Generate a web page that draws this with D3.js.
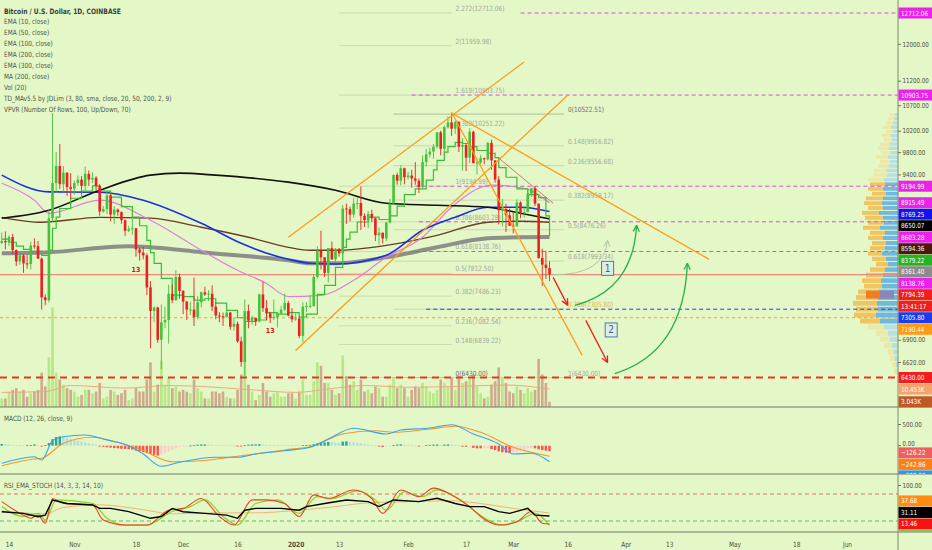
<!DOCTYPE html>
<html>
<head>
<meta charset="utf-8">
<script src="https://cdn.jsdelivr.net/npm/d3@7"></script>
<style>
  body { margin: 0; background: #e4f7c7; }
  svg { display: block; }
  text { font-family: "Liberation Sans Narrow", "DejaVu Sans Condensed", "Liberation Sans", sans-serif; }
</style>
</head>
<body>
<svg id="chart" width="932" height="550"></svg>
<script>
// ---- daily BTC/USD candles, 2019-10-12 .. 2020-03-11 ----
const firstDay = "2019-10-12";
const opens = [
  8270, 8300, 8280, 8360, 8160, 7990, 8080, 7960, 7950, 8230, 8220, 8030, 7470, 7430, 8660, 9250, 9550, 9230, 9430, 9180,
  9150, 9250, 9310, 9200, 9410, 9310, 9340, 9200, 8770, 8810, 9040, 8720, 8800, 8760, 8630, 8460, 8490, 8500, 8170, 8120, 8080, 7610, 7280, 7330, 6900, 7130, 7160, 7520, 7430, 7760,
  7560, 7410, 7300, 7300, 7200, 7400, 7540, 7510, 7520, 7340, 7220, 7210, 7200, 7260, 7070, 7110, 6880, 6620, 7280, 7150, 7190, 7140, 7510, 7320, 7250, 7190, 7200, 7250, 7300, 7390, 7220,
  7170, 7180, 6950, 7340, 7350, 7350, 7760, 8150, 8050, 7820, 8190, 8020, 8180, 8110, 8820, 8810, 8720, 8900, 8910, 8700, 8630, 8730, 8660, 8390, 8430, 8340, 8590, 8900, 9390, 9290, 9510,
  9350, 9380, 9330, 9290, 9180, 9620, 9760, 9810, 9900, 10170, 9860, 10270, 10360, 10240, 10370, 9900, 9930, 9700, 10180, 9600, 9610, 9690, 9670, 9970, 9650, 9310, 8790, 8810, 8710,
  8540, 8530, 8920, 8760, 8760, 9070, 9160, 8900, 8040, 7940, 7890
];
const highs = [
  8430, 8450, 8390, 8410, 8170, 8110, 8100, 8090, 8290, 8340, 8300, 8050, 7510, 8800, 10540, 9800, 9950, 9550, 9440, 9420,
  9290, 9380, 9370, 9540, 9470, 9440, 9370, 9230, 8860, 9100, 9070, 8860, 8820, 8770, 8640, 8540, 8650, 8500, 8200, 8210, 8110, 7700, 7340, 7340, 7370, 7340, 7650, 7650, 7860, 7810,
  7570, 7420, 7410, 7750, 7490, 7550, 7620, 7570, 7640, 7400, 7270, 7260, 7310, 7270, 7190, 7140, 6940, 7440, 7370, 7220, 7190, 7520, 7690, 7430, 7270, 7440, 7270, 7350, 7520, 7420, 7320,
  7250, 7210, 7400, 7400, 7500, 7800, 8220, 8460, 8050, 8190, 8290, 8190, 8190, 8880, 8900, 8850, 9000, 9010, 9190, 8740, 8780, 8800, 8670, 8510, 8430, 8600, 8980, 9400, 9430, 9560, 9520,
  9440, 9480, 9620, 9330, 9740, 9860, 9880, 9950, 10170, 10200, 10300, 10480, 10522, 10390, 10380, 10060, 9960, 10250, 10200, 9650, 9750, 9700, 9990, 10030, 9650, 9370, 8980, 8900, 8820,
  8750, 8970, 8940, 8840, 9150, 9170, 9190, 8900, 8180, 8150, 7990
];
const lows = [
  8250, 8170, 8220, 8100, 7920, 7940, 7820, 7880, 7870, 8180, 8030, 7300, 7360, 7400, 8600, 9080, 9150, 9100, 9030, 8980,
  9050, 9200, 9080, 9120, 9200, 9250, 9120, 8700, 8750, 8730, 8610, 8570, 8700, 8570, 8380, 8440, 8400, 8060, 8000, 8020, 7500, 6790, 7130, 6860, 6530, 7050, 6850, 7390, 7420, 7450,
  7240, 7160, 7230, 7080, 7170, 7330, 7490, 7420, 7280, 7170, 7130, 7080, 7190, 7030, 7020, 6860, 6560, 6430, 7050, 7100, 7080, 7130, 7270, 7160, 7120, 7160, 7060, 7240, 7280, 7210, 7130,
  7150, 6920, 6870, 7270, 7320, 7340, 7740, 7870, 7760, 7680, 8010, 7970, 8060, 8100, 8570, 8610, 8670, 8810, 8470, 8520, 8500, 8600, 8300, 8240, 8260, 8300, 8580, 8880, 9220, 9210, 9230,
  9310, 9170, 9220, 9080, 9160, 9540, 9700, 9680, 9870, 9740, 9740, 10250, 10100, 10140, 9800, 9470, 9460, 9600, 9600, 9400, 9570, 9580, 9650, 9480, 9260, 8560, 8530, 8440, 8540,
  8420, 8530, 8660, 8670, 8760, 9010, 8860, 8030, 7630, 7730, 7700
];
const closes = [
  8300, 8280, 8360, 8160, 7990, 8080, 7960, 7950, 8230, 8220, 8030, 7470, 7430, 8660, 9250, 9550, 9230, 9430, 9180, 9150,
  9250, 9310, 9200, 9410, 9310, 9340, 9200, 8770, 8810, 9040, 8720, 8800, 8760, 8630, 8460, 8490, 8500, 8170, 8120, 8080, 7610, 7280, 7330, 6900, 7130, 7160, 7520, 7430, 7760, 7560,
  7410, 7300, 7300, 7200, 7400, 7540, 7510, 7520, 7340, 7220, 7210, 7200, 7260, 7070, 7110, 6880, 6620, 7280, 7150, 7190, 7140, 7510, 7320, 7250, 7190, 7200, 7250, 7300, 7390, 7220, 7170,
  7180, 6950, 7340, 7350, 7350, 7760, 8150, 8050, 7820, 8190, 8020, 8180, 8110, 8820, 8810, 8720, 8900, 8910, 8700, 8630, 8730, 8660, 8390, 8430, 8340, 8590, 8900, 9390, 9290, 9510, 9350,
  9380, 9330, 9290, 9180, 9620, 9760, 9810, 9900, 10170, 9860, 10270, 10360, 10240, 10370, 9900, 9930, 9700, 10180, 9600, 9610, 9690, 9670, 9970, 9650, 9310, 8790, 8810, 8710, 8540,
  8530, 8920, 8760, 8760, 9070, 9160, 8900, 8040, 7940, 7890, 7794.39
];
// volume in thousands of BTC
const volumes = [
  5, 5, 9, 10, 11, 9, 10, 6, 8, 9, 10, 20, 12, 29, 58, 20, 16, 13, 11, 10,
  9, 6, 7, 10, 10, 8, 9, 14, 5, 6, 10, 9, 7, 8, 10, 4, 5, 11, 9, 9, 16, 26, 9, 13, 27, 13, 17, 11, 12, 9,
  10, 9, 8, 16, 11, 9, 5, 5, 9, 9, 8, 9, 6, 5, 5, 10, 19, 27, 13, 9, 4, 7, 14, 9, 6, 8, 9, 6, 6, 8, 8,
  5, 9, 16, 7, 7, 15, 26, 24, 14, 14, 10, 7, 8, 30, 18, 13, 15, 10, 16, 9, 10, 8, 12, 11, 6, 6, 13, 17, 11, 13, 11,
  6, 10, 12, 11, 14, 12, 9, 8, 10, 16, 14, 12, 17, 10, 18, 14, 15, 17, 19, 12, 8, 5, 6, 13, 15, 23, 17, 14, 9,
  8, 12, 10, 8, 11, 9, 10, 28, 19, 14, 3.043
];
const macdHist = [
  40, 35, 30, 20, 12, 10, 8, 10, 15, 30, 10, -5, 15, 60, 150, 200, 215, 200, 180, 160,
  140, 115, 95, 75, 55, 40, 25, -15, -25, -35, -45, -55, -60, -70, -75, -80, -90, -110, -130, -150, -170, -190, -210, -225, -200, -170, -130, -95, -60, -30,
  -15, -5, 5, 10, 25, 30, 30, 28, 22, 18, 14, 10, 8, 6, 4, -5, -15, 10, 25, 30, 30, 35, 30, 25, 20, 18, 16, 15, 14, 12, 10,
  8, 6, 10, 15, 20, 35, 55, 70, 75, 85, 80, 70, 65, 95, 100, 90, 80, 70, 55, 40, 30, 15, 5, -20, -30, -25, -10, 15, 25, 30, 25,
  20, 10, 2, -10, -5, 15, 20, 25, 28, 22, 25, 30, 28, 20, 10, -20, -25, -20, -50, -60, -60, -55, -50, -80, -100, -130, -150, -160, -165,
  -160, -140, -115, -90, -65, -55, -60, -80, -100, -115, -126.22
];

// ---- indicator lines, [date, value] ----
const ma200 = [["2019-10-12",8661],["2019-10-25",8791],["2019-11-08",9127],["2019-11-22",9387],["2019-11-30",9422],["2019-12-10",9387],["2019-12-30",9265],["2020-01-12",9127],["2020-01-26",8907],["2020-02-09",8874],["2020-02-23",8841],["2020-03-03",8741],["2020-03-11",8650.07]];
const ema100 = [["2019-10-12",9387],["2019-10-25",9098],["2019-11-08",9093],["2019-11-20",8958],["2019-12-06",8579],["2019-12-17",8264],["2019-12-30",8020],["2020-01-05",7961],["2020-01-12",7950],["2020-01-26",8081],["2020-02-05",8468],["2020-02-14",8676],["2020-02-23",8841],["2020-03-03",8841],["2020-03-11",8769.25]];
const ema50 = [["2019-10-12",9247],["2019-10-21",8958],["2019-10-25",8741],["2019-11-08",8958],["2019-11-22",8628],["2019-12-06",8157],["2019-12-16",7857],["2019-12-24",7667],["2019-12-30",7480],["2020-01-08",7498],["2020-01-17",7711],["2020-01-26",8050],["2020-02-05",8358],["2020-02-13",8841],["2020-02-24",9213],["2020-03-04",9160],["2020-03-11",8915.49]];
const ema200 = [["2019-10-12",8676],["2019-10-23",8596],["2019-11-08",8676],["2019-11-22",8661],["2019-12-06",8516],["2019-12-19",8358],["2019-12-30",8203],["2020-01-05",8157],["2020-01-12",8157],["2020-01-26",8233],["2020-02-09",8389],["2020-02-23",8596],["2020-03-03",8612],["2020-03-11",8594.36]];
const ema300 = [["2019-10-12",8111],["2019-10-25",8127],["2019-11-16",8218],["2019-11-22",8203],["2019-12-06",8127],["2019-12-30",8006],["2020-01-05",7961],["2020-01-12",7961],["2020-01-26",8050],["2020-02-09",8203],["2020-02-23",8342],["2020-03-03",8358],["2020-03-11",8361.40]];
const ema10 = [["2019-10-12",8330],["2019-10-14",8280],["2019-10-16",8220],["2019-10-18",8170],["2019-10-20",8140],["2019-10-23",8080],["2019-10-25",8160],["2019-10-26",8500],["2019-10-27",8680],["2019-10-28",8820],["2019-10-31",8990],["2019-11-03",9110],["2019-11-06",9200],["2019-11-08",9110],["2019-11-11",9010],["2019-11-14",8850],["2019-11-17",8680],["2019-11-19",8540],["2019-11-21",8310],["2019-11-22",8120],["2019-11-23",7960],["2019-11-25",7740],["2019-11-28",7500],["2019-12-01",7480],["2019-12-04",7430],["2019-12-07",7450],["2019-12-10",7390],["2019-12-13",7290],["2019-12-16",7190],["2019-12-18",7140],["2019-12-21",7160],["2019-12-24",7260],["2019-12-27",7240],["2019-12-30",7260],["2020-01-02",7200],["2020-01-04",7240],["2020-01-07",7510],["2020-01-09",7640],["2020-01-12",7900],["2020-01-14",8200],["2020-01-15",8330],["2020-01-16",8440],["2020-01-18",8600],["2020-01-21",8680],["2020-01-24",8640],["2020-01-27",8700],["2020-01-29",8860],["2020-01-31",9050],["2020-02-03",9150],["2020-02-06",9300],["2020-02-08",9480],["2020-02-09",9650],["2020-02-11",9800],["2020-02-12",9900],["2020-02-14",9980],["2020-02-16",9960],["2020-02-18",9900],["2020-02-20",9830],["2020-02-23",9780],["2020-02-25",9700],["2020-02-26",9520],["2020-02-28",9350],["2020-03-02",9150],["2020-03-05",9050],["2020-03-08",9000],["2020-03-10",8700],["2020-03-11",8379.22]];
const volMa = [["2019-10-12",8.5],["2019-10-24",9],["2019-10-31",12.5],["2019-11-15",11],["2019-11-27",12.5],["2019-12-06",12],["2019-12-20",10],["2020-01-01",8.5],["2020-01-10",10.5],["2020-01-20",12.5],["2020-02-01",11.5],["2020-02-15",12],["2020-02-28",12.8],["2020-03-11",10.453]];

const macdLine = [["2019-10-12",-406],["2019-10-21",-253],["2019-10-23",-330],["2019-10-26",115],["2019-10-29",207],["2019-11-04",247],["2019-11-10",131],["2019-11-16",0],["2019-11-20",-191],["2019-11-25",-475],["2019-11-30",-382],["2019-12-10",-267],["2019-12-16",-267],["2019-12-21",-191],["2019-12-29",-115],["2020-01-05",-37],["2020-01-10",154],["2020-01-17",401],["2020-01-26",270],["2020-01-30",362],["2020-02-07",408],["2020-02-13",484],["2020-02-19",270],["2020-02-26",39],["2020-03-01",-191],["2020-03-06",-175],["2020-03-11",-369.08]];
const signalLine = [["2019-10-12",-461],["2019-10-21",-306],["2019-10-23",-291],["2019-10-29",55],["2019-11-06",194],["2019-11-13",78],["2019-11-20",-115],["2019-11-28",-369],["2019-12-06",-346],["2019-12-16",-244],["2019-12-29",-99],["2020-01-06",0],["2020-01-14",270],["2020-01-23",346],["2020-01-28",309],["2020-02-07",385],["2020-02-14",447],["2020-02-21",309],["2020-03-01",-37],["2020-03-11",-242.86]];

const rsiLine = [["2019-10-12",40.7],["2019-10-18",37],["2019-10-22",29.6],["2019-10-24",33],["2019-10-26",66.7],["2019-10-30",59],["2019-11-06",55.6],["2019-11-08",48],["2019-11-11",48],["2019-11-16",40.7],["2019-11-22",26],["2019-11-25",30],["2019-11-28",48],["2019-12-01",40.7],["2019-12-07",37],["2019-12-13",33],["2019-12-16",26],["2019-12-18",44],["2019-12-21",48],["2019-12-28",48],["2020-01-02",44],["2020-01-04",52],["2020-01-09",59],["2020-01-15",66.7],["2020-01-21",63],["2020-01-24",52],["2020-01-28",66.7],["2020-02-04",63],["2020-02-09",70.4],["2020-02-14",59],["2020-02-18",52],["2020-02-22",52],["2020-02-26",40.7],["2020-02-29",37],["2020-03-05",48],["2020-03-07",33],["2020-03-11",31.11]];
const rsiEma = [["2019-10-12",42],["2019-10-24",36],["2019-10-29",50],["2019-11-08",56],["2019-11-20",45],["2019-11-28",36],["2019-12-10",38],["2019-12-20",38],["2020-01-02",44],["2020-01-12",52],["2020-01-22",61],["2020-02-01",63],["2020-02-12",65],["2020-02-20",60],["2020-03-01",48],["2020-03-06",43],["2020-03-11",37.68]];
const stochK = [["2019-10-12",63],["2019-10-18",33],["2019-10-20",26],["2019-10-22",33],["2019-10-24",15],["2019-10-26",70],["2019-10-29",59],["2019-11-06",56],["2019-11-09",22],["2019-11-15",11],["2019-11-21",11],["2019-11-27",44],["2019-12-01",48],["2019-12-06",70],["2019-12-11",30],["2019-12-15",11],["2019-12-20",67],["2019-12-24",67],["2019-12-29",59],["2020-01-02",30],["2020-01-06",78],["2020-01-10",70],["2020-01-17",89],["2020-01-22",70],["2020-01-25",37],["2020-01-30",89],["2020-02-04",74],["2020-02-08",93],["2020-02-13",78],["2020-02-18",52],["2020-02-21",30],["2020-02-26",11],["2020-03-02",18.5],["2020-03-06",41],["2020-03-09",15],["2020-03-11",13.46]];
const stochD = [["2019-10-12",52],["2019-10-18",30],["2019-10-22",37],["2019-10-24",22],["2019-10-27",67],["2019-11-06",59],["2019-11-10",26],["2019-11-15",11],["2019-11-21",11],["2019-11-28",41],["2019-12-03",52],["2019-12-07",67],["2019-12-12",30],["2019-12-16",11],["2019-12-21",59],["2019-12-27",67],["2020-01-02",37],["2020-01-07",74],["2020-01-11",70],["2020-01-18",87],["2020-01-23",67],["2020-01-26",44],["2020-01-31",85],["2020-02-05",74],["2020-02-09",89],["2020-02-14",74],["2020-02-19",44],["2020-02-23",22],["2020-02-27",11],["2020-03-03",22],["2020-03-07",37],["2020-03-11",10]];

// ---- volume profile (visible range), thousands of BTC per row ----
const vpRowPrices = [10500,10420,10340,10260,10180,10100,10020,9940,9860,9780,9700,9620,9540,9460,9380,9300,9220,9140,9060,8980,8900,8820,8740,8660,8580,8500,8420,8340,8260,8180,8100,8020,7940,7860,7780,7700,7620,7540,7460,7380,7300,7220,7140,7060,6980,6900,6820,6740,6660,6580,6500];
const vpUp =   [6,9,10,14,10,15,12,17,19,15,20,16,19,24,22,28,26,30,25,30,32,30,38,30,28,36,26,30,24,27,32,24,20,26,30,34,32,38,40,42,40,44,36,28,20,16,12,9,7,5,3];
const vpDown = [10,11,14,16,14,17,16,19,21,19,24,20,21,24,28,32,30,30,27,34,36,30,34,36,32,34,30,30,28,29,28,28,24,30,34,38,36,42,44,48,44,44,40,32,24,20,16,11,9,7,5];

// ---- drawings ----
const fibALevels = ["2.272","2","1.618","1.382","1","0.786","0.618","0.5","0.382","0.236","0.148","0"];
const fibAPrices = [12712.06, 11959.98, 10903.75, 10251.22, 9194.99, 8603.28, 8138.76, 7812.50, 7486.23, 7082.54, 6839.22, 6430.00];
const fibASpan = ["2020-01-13", "2020-02-13"];
const fibBLevels = ["0","0.148","0.236","0.382","0.5","0.618","0.786","1"];
const fibBPrices = [10522.51, 9916.82, 9556.68, 8959.17, 8476.26, 7993.34, 7305.80, 6430.00];
const fibBSpan = ["2020-01-28", "2020-03-15"];
const rayPrices = [12712.06, 10903.75, 9194.99, 8603.28, 8138.76];
const rayStarts = ["2020-03-03", "2020-02-02", "2020-02-03", "2020-02-04", "2020-02-03"];
const trendLines = [
  [["2019-12-30", 8358], ["2020-03-04", 11600]],
  [["2020-01-01", 6764], ["2020-03-16", 10900]],
  [["2020-02-13", 10560], ["2020-03-20", 6701]],
  [["2020-02-13", 10543], ["2020-04-24", 8020]]
];
const thinLine = [["2020-02-26", 9690], ["2020-03-12", 8907]];
const redArrows = [
  [["2020-03-12", 7754], ["2020-03-16", 7359]],
  [["2020-03-21", 7155], ["2020-03-27", 6613]]
];
const greenArrows = [
  [["2020-03-18", 7359], ["2020-04-03", 7568], ["2020-04-04", 8547]],
  [["2020-03-29", 6478], ["2020-04-17", 6739], ["2020-04-18", 7961]]
];
const grayArrow = [["2020-03-12", 7794], ["2020-03-26", 7783], ["2020-03-27", 8311]];
const boxes = [["1", "2020-03-27", 7886], ["2", "2020-03-28", 7028]];
const tdMarks = [["13", "2019-11-18", 7830], ["13", "2019-12-25", 6990]];

// ---- axes / labels ----
const priceTicks = [12000, 11200, 10700, 10200, 9800, 9400, 6900, 6620];
const macdTicks = [500];
const rsiTicks = [100];
const xTickDates = ["2019-10-14","2019-11-01","2019-11-18","2019-12-01","2019-12-16","2020-01-01","2020-01-13","2020-02-01","2020-02-17","2020-03-01","2020-03-16","2020-04-01","2020-04-13","2020-05-01","2020-05-18","2020-06-01"];
const xTickLabels = ["14","Nov","18","Dec","16","2020","13","Feb","17","Mar","16","Apr","13","May","18","Jun"];
const legendLines = ["EMA (10, close)","EMA (50, close)","EMA (100, close)","EMA (200, close)","EMA (300, close)","MA (200, close)","Vol (20)","TD_MAv5.5 by JDLim (3, 80, sma, close, 20, 50, 200, 2, 9)","VPVR (Number Of Rows, 100, Up/Down, 70)"];
const titleText = "Bitcoin / U.S. Dollar, 1D, COINBASE";
const priceMarks = [12712.06, 10903.75, 9194.99, 8915.49, 8769.25, 8650.07, 8603.28, 8594.36, 8379.22, 8361.40, 8138.76, 7794.39, null, 7305.80, 7190.44, 6430.00];
const countdown = "13:41:17";
const volMarks = [10.453, 3.043];
const macdMarks = [-126.22, -242.86, -369.08];
const rsiMarks = [37.68, 31.11, 13.46, 10];

// ================= drawing =================
const svg = d3.select("#chart");
const W = 932, H = 550, axisX = 898;
const mainBottom = 407, macdBottom = 474, rsiBottom = 532;
const parseDay = d3.utcParse("%Y-%m-%d");
const fmt2 = d3.format(".2f");

const x = d3.scaleUtc().domain([parseDay("2019-10-14"), parseDay("2020-06-01")]).range([9, 847]);
const y = d3.scaleLog().domain([6430, 12712.06]).range([377.5, 13]);
const yVol = d3.scaleLinear().domain([0, 60]).range([mainBottom, 304]);
const yMacd = d3.scaleLinear().domain([-500, 500]).range([467.4, 424]);
const yRsi = d3.scaleLinear().domain([0, 100]).range([530, 485]);

const days = d3.utcDay.range(parseDay(firstDay), d3.utcDay.offset(parseDay(firstDay), opens.length));
const bars = days.map((d, i) => ({ date: d, o: opens[i], h: highs[i], l: lows[i], c: closes[i], v: volumes[i], hist: macdHist[i] }));
const px = s => x(parseDay(s));

// squeeze text horizontally to mimic the narrow chart font
function condense(sel, k) {
  sel.each(function () {
    const w = this.getComputedTextLength();
    if (w > 0) d3.select(this).attr("textLength", w * k).attr("lengthAdjust", "spacingAndGlyphs");
  });
}

svg.append("rect").attr("width", W).attr("height", H).attr("fill", "#e4f7c7");

const defs = svg.append("defs");
function addClip(id, x0, y0, w, h) {
  defs.append("clipPath").attr("id", id).append("rect").attr("x", x0).attr("y", y0).attr("width", w).attr("height", h);
}
addClip("clipMain", 0, 0, axisX, mainBottom);
addClip("clipMacd", 0, mainBottom, axisX, macdBottom - mainBottom);
addClip("clipRsi", 0, macdBottom, axisX, rsiBottom - macdBottom);
addClip("clipMacdLab", axisX, mainBottom + 1, W - axisX, macdBottom - mainBottom - 1);
addClip("clipRsiLab", axisX, macdBottom + 1, W - axisX, rsiBottom - macdBottom - 1);

const gMain = svg.append("g").attr("clip-path", "url(#clipMain)");

// volume bars + MA
gMain.selectAll("rect.vol").data(bars).join("rect")
  .attr("x", d => x(d.date) - 1.3).attr("width", 2.6)
  .attr("y", d => yVol(d.v)).attr("height", d => mainBottom - yVol(d.v))
  .attr("fill", d => d.c >= d.o ? "#b7e884" : "#cdab8c");
gMain.append("path").datum(volMa)
  .attr("fill", "none").attr("stroke", "#f0a276").attr("stroke-width", 0.9)
  .attr("d", d3.line().x(d => px(d[0])).y(d => yVol(d[1])).curve(d3.curveMonotoneX));

// volume profile
const vpScale = 0.5;
vpRowPrices.forEach((p, i) => {
  const y0 = y(p + 40), y1 = y(p - 40);
  const inVA = p >= 7100 && p <= 9260;
  const up = vpUp[i] * vpScale, dn = vpDown[i] * vpScale;
  gMain.append("rect").attr("x", axisX - up).attr("y", y0).attr("width", up).attr("height", Math.max(1, y1 - y0 - 1))
    .attr("fill", inVA ? "#52a8e2" : "#add9e6").attr("opacity", 0.8);
  gMain.append("rect").attr("x", axisX - up - dn).attr("y", y0).attr("width", dn).attr("height", Math.max(1, y1 - y0 - 1))
    .attr("fill", inVA ? "#f3b846" : "#ede39e").attr("opacity", 0.8);
});
gMain.append("rect").attr("x", 866).attr("y", y(7794.39) + 16).attr("width", 14).attr("height", 8).attr("fill", "#f07d22");
gMain.append("rect").attr("x", 880).attr("y", y(7794.39) + 16).attr("width", 14).attr("height", 8).attr("fill", "#8a86b8");

// fib levels (faint)
fibAPrices.forEach((p, i) => {
  gMain.append("line").attr("x1", px(fibASpan[0])).attr("x2", px(fibASpan[1])).attr("y1", y(p)).attr("y2", y(p))
    .attr("stroke", "#9aa58c").attr("stroke-opacity", 0.35).attr("stroke-width", 1);
  gMain.append("text").attr("class", "sq").attr("x", px(fibASpan[1]) + 4).attr("y", y(p) - 2)
    .attr("font-size", 7.2).attr("fill", fibALevels[i] === "0" ? "#707070" : "#a3a89a")
    .text(`${fibALevels[i]}(${fmt2(p)})`);
});
fibBPrices.forEach((p, i) => {
  gMain.append("line").attr("x1", px(fibBSpan[0])).attr("x2", px(fibBSpan[1])).attr("y1", y(p)).attr("y2", y(p))
    .attr("stroke", "#8c967f").attr("stroke-opacity", fibBLevels[i] === "0" ? 0.6 : 0.3).attr("stroke-width", 1);
  gMain.append("text").attr("class", "sq").attr("x", px(fibBSpan[1]) + 4).attr("y", y(p) - 2)
    .attr("font-size", 7.2)
    .attr("fill", fibBLevels[i] === "0" ? "#707070" : fibBLevels[i] === "0.786" ? "#d9b64a" : "#a3a89a")
    .text(`${fibBLevels[i]}(${fmt2(p)})`);
});

// horizontal levels
rayPrices.forEach((p, i) => {
  gMain.append("line").attr("x1", px(rayStarts[i])).attr("x2", axisX).attr("y1", y(p)).attr("y2", y(p))
    .attr("stroke", "#e04ae0").attr("stroke-width", 1).attr("stroke-dasharray", "4,3");
});
gMain.append("line").attr("x1", px("2020-02-06")).attr("x2", axisX).attr("y1", y(7305.80)).attr("y2", y(7305.80))
  .attr("stroke", "#2a3ee0").attr("stroke-width", 1).attr("stroke-dasharray", "4,3");
gMain.append("line").attr("x1", 0).attr("x2", axisX).attr("y1", y(7190.44)).attr("y2", y(7190.44))
  .attr("stroke", "#f2a23a").attr("stroke-width", 1).attr("stroke-dasharray", "3,3");
gMain.append("line").attr("x1", 0).attr("x2", axisX).attr("y1", y(7794.39)).attr("y2", y(7794.39))
  .attr("stroke", "#f08a7a").attr("stroke-width", 1.2);
gMain.append("line").attr("x1", 0).attr("x2", axisX).attr("y1", y(6430)).attr("y2", y(6430))
  .attr("stroke", "#e23a2a").attr("stroke-width", 2).attr("stroke-dasharray", "7,5");

// moving averages
const priceLine = d3.line().x(d => px(d[0])).y(d => y(d[1])).curve(d3.curveMonotoneX);
gMain.append("path").datum(ema300).attr("fill", "none").attr("stroke", "#7e7e7e").attr("stroke-opacity", 0.85).attr("stroke-width", 4).attr("d", priceLine);
gMain.append("path").datum(ema200).attr("fill", "none").attr("stroke", "#6b3b22").attr("stroke-width", 1.3).attr("d", priceLine);
gMain.append("path").datum(ema50).attr("fill", "none").attr("stroke", "#e07ee0").attr("stroke-width", 1.2).attr("d", priceLine);
gMain.append("path").datum(ema100).attr("fill", "none").attr("stroke", "#1c2fe0").attr("stroke-width", 1.6).attr("d", priceLine);
gMain.append("path").datum(ma200).attr("fill", "none").attr("stroke", "#111").attr("stroke-width", 1.6).attr("d", priceLine);
gMain.append("path").datum(ema10).attr("fill", "none").attr("stroke", "#3dbb3a").attr("stroke-width", 1.2)
  .attr("d", d3.line().x(d => px(d[0])).y(d => y(d[1])).curve(d3.curveStepAfter));

// candles
const cg = gMain.selectAll("g.candle").data(bars).join("g").attr("class", "candle");
cg.append("line")
  .attr("x1", d => x(d.date)).attr("x2", d => x(d.date))
  .attr("y1", d => y(d.h)).attr("y2", d => y(d.l))
  .attr("stroke", d => d.c >= d.o ? "#45c23a" : "#ee1f1f").attr("stroke-width", 0.9);
cg.append("rect")
  .attr("x", d => x(d.date) - 1.3).attr("width", 2.6)
  .attr("y", d => y(Math.max(d.o, d.c)))
  .attr("height", d => Math.max(1, y(Math.min(d.o, d.c)) - y(Math.max(d.o, d.c))))
  .attr("fill", d => d.c >= d.o ? "#45c23a" : "#ee1f1f");

tdMarks.forEach(([t, d, p]) => {
  gMain.append("text").attr("x", px(d)).attr("y", y(p)).attr("text-anchor", "middle")
    .attr("font-size", 7).attr("font-weight", "bold").attr("fill", "#d01818").text(t);
});

// trend lines and arrows
const pt = d => [px(d[0]), y(d[1])];
trendLines.forEach(seg => {
  const [a, b] = seg.map(pt);
  gMain.append("line").attr("x1", a[0]).attr("y1", a[1]).attr("x2", b[0]).attr("y2", b[1])
    .attr("stroke", "#ff9b1a").attr("stroke-width", 1.3);
});
{
  const [a, b] = thinLine.map(pt);
  gMain.append("line").attr("x1", a[0]).attr("y1", a[1]).attr("x2", b[0]).attr("y2", b[1])
    .attr("stroke", "#c0392b").attr("stroke-width", 0.8).attr("stroke-opacity", 0.8);
}
function arrowHead(from, to, color, width) {
  const ang = Math.atan2(to[1] - from[1], to[0] - from[0]);
  [ang + Math.PI - 0.45, ang + Math.PI + 0.45].forEach(t => {
    gMain.append("line").attr("x1", to[0]).attr("y1", to[1])
      .attr("x2", to[0] + 7 * Math.cos(t)).attr("y2", to[1] + 7 * Math.sin(t))
      .attr("stroke", color).attr("stroke-width", width);
  });
}
redArrows.forEach(seg => {
  const [a, b] = seg.map(pt);
  gMain.append("line").attr("x1", a[0]).attr("y1", a[1]).attr("x2", b[0]).attr("y2", b[1])
    .attr("stroke", "#e52222").attr("stroke-width", 1.3);
  arrowHead(a, b, "#e52222", 1.3);
});
function curvedArrow(p3, color, width) {
  const [a, c, b] = p3.map(pt);
  gMain.append("path").attr("d", `M${a[0]},${a[1]} Q${c[0]},${c[1]} ${b[0]},${b[1]}`)
    .attr("fill", "none").attr("stroke", color).attr("stroke-width", width);
  arrowHead(c, b, color, width);
}
greenArrows.forEach(a => curvedArrow(a, "#25b04a", 1.3));
curvedArrow(grayArrow, "#b4c7a8", 1);
boxes.forEach(([t, d, p]) => {
  const cx = px(d), cy = y(p);
  gMain.append("rect").attr("x", cx - 6).attr("y", cy - 7).attr("width", 12).attr("height", 14)
    .attr("fill", "#dfeede").attr("stroke", "#4d78b5").attr("stroke-width", 1);
  gMain.append("text").attr("x", cx).attr("y", cy + 3.5).attr("text-anchor", "middle")
    .attr("font-size", 10).attr("fill", "#3a64a8").text(t);
});

// ---- MACD panel ----
const gMacd = svg.append("g").attr("clip-path", "url(#clipMacd)");
gMacd.selectAll("rect").data(bars).join("rect")
  .attr("x", d => x(d.date) - 1.2).attr("width", 2.4)
  .attr("y", d => Math.min(yMacd(0), yMacd(d.hist)))
  .attr("height", d => Math.max(0.8, Math.abs(yMacd(d.hist) - yMacd(0))))
  .attr("fill", (d, i) => {
    const prev = i > 0 ? bars[i - 1].hist : d.hist;
    if (d.hist >= 0) return d.hist >= prev ? "#26a69a" : "#b2dfdb";
    return d.hist <= prev ? "#ff4f4f" : "#ffc9d0";
  });
const macdGen = d3.line().x(d => px(d[0])).y(d => yMacd(d[1])).curve(d3.curveMonotoneX);
gMacd.append("path").datum(signalLine).attr("fill", "none").attr("stroke", "#f5962b").attr("stroke-width", 1.1).attr("d", macdGen);
gMacd.append("path").datum(macdLine).attr("fill", "none").attr("stroke", "#3aa5ec").attr("stroke-width", 1.1).attr("d", macdGen);

// ---- RSI panel ----
const gRsi = svg.append("g").attr("clip-path", "url(#clipRsi)");
gRsi.append("line").attr("x1", 0).attr("x2", axisX).attr("y1", yRsi(80)).attr("y2", yRsi(80))
  .attr("stroke", "#e0775a").attr("stroke-width", 1).attr("stroke-dasharray", "4,3");
gRsi.append("line").attr("x1", 0).attr("x2", axisX).attr("y1", yRsi(20)).attr("y2", yRsi(20))
  .attr("stroke", "#58c060").attr("stroke-width", 1).attr("stroke-dasharray", "4,3");
const rsiSmooth = d3.line().x(d => px(d[0])).y(d => yRsi(d[1])).curve(d3.curveMonotoneX);
gRsi.append("path").datum(rsiEma).attr("fill", "none").attr("stroke", "#f2b27a").attr("stroke-width", 1).attr("d", rsiSmooth);
gRsi.append("path").datum(stochD).attr("fill", "none").attr("stroke", "#8cd21e").attr("stroke-width", 1.2).attr("d", rsiSmooth);
gRsi.append("path").datum(stochK).attr("fill", "none").attr("stroke", "#f0402a").attr("stroke-width", 1.1).attr("d", rsiSmooth);
gRsi.append("path").datum(rsiLine).attr("fill", "none").attr("stroke", "#000").attr("stroke-width", 1.4)
  .attr("d", d3.line().x(d => px(d[0])).y(d => yRsi(d[1])));

// ---- frame ----
[mainBottom, macdBottom, rsiBottom].forEach(yy => {
  svg.append("line").attr("x1", 0).attr("x2", W).attr("y1", yy).attr("y2", yy).attr("stroke", "#737d68").attr("stroke-width", 1.2);
});
svg.append("line").attr("x1", axisX).attr("x2", axisX).attr("y1", 0).attr("y2", H).attr("stroke", "#7e8873").attr("stroke-width", 1);

// ---- axes ----
function styleAxis(g) {
  g.select(".domain").remove();
  g.selectAll("line").attr("stroke", "#6d7863");
  g.selectAll("text").attr("font-size", 6.8).attr("fill", "#4a4f44").classed("sq", true);
}
svg.append("g").attr("transform", `translate(${axisX},0)`)
  .call(d3.axisRight(y).tickValues(priceTicks).tickFormat(fmt2).tickSize(3).tickPadding(1.5)).call(styleAxis);
svg.append("g").attr("transform", `translate(${axisX},0)`)
  .call(d3.axisRight(yMacd).tickValues(macdTicks).tickFormat(fmt2).tickSize(3).tickPadding(1.5)).call(styleAxis);
svg.append("g").attr("transform", `translate(${axisX},0)`)
  .call(d3.axisRight(yRsi).tickValues(rsiTicks).tickFormat(fmt2).tickSize(3).tickPadding(1.5)).call(styleAxis);
// zero line label of the MACD scale, nudged up so the value tags below leave it readable
svg.append("line").attr("x1", axisX).attr("x2", axisX + 3).attr("y1", yMacd(0)).attr("y2", yMacd(0)).attr("stroke", "#6d7863");
svg.append("text").attr("class", "sq").attr("x", axisX + 4.5).attr("y", yMacd(0) + 0.5)
  .attr("font-size", 6.8).attr("fill", "#4a4f44").text(fmt2(0));
svg.append("g").attr("transform", `translate(0,${rsiBottom})`)
  .call(d3.axisBottom(x).tickValues(xTickDates.map(parseDay)).tickFormat((d, i) => xTickLabels[i]).tickSize(0).tickPadding(10))
  .call(styleAxis)
  .selectAll("text").attr("font-size", 7.2).attr("font-weight", (d, i) => xTickLabels[i] === "2020" ? "bold" : null);

// ---- right-side value labels ----
function layout(ys, anchor, minFirst) {
  const out = ys.slice();
  if (minFirst !== undefined) out[anchor] = Math.max(out[anchor], minFirst);
  for (let i = anchor + 1; i < out.length; i++) out[i] = Math.max(out[i], out[i - 1] + 11.5);
  for (let i = anchor - 1; i >= 0; i--) out[i] = Math.min(out[i], out[i + 1] - 11.5);
  return out;
}
function drawLabels(parent, texts, ys, fills) {
  texts.forEach((t, i) => {
    parent.append("rect").attr("x", axisX + 0.5).attr("y", ys[i] - 5.5).attr("width", W - axisX).attr("height", 11).attr("fill", fills[i]);
    parent.append("text").attr("class", "sq").attr("x", axisX + 3).attr("y", ys[i] + 2.5).attr("font-size", 7)
      .attr("fill", "#fff").text(t);
  });
}
const markFills = ["#ec22ec","#ec22ec","#ec22ec","#ec22ec","#1212ee","#000","#ec22ec","#4a1a0c","#25b225","#8c8c8c","#ec22ec","#f21d1d","#f21d1d","#1d3bee","#ff9a12","#f21d1d"];
let markYs = priceMarks.map((v, i) => v === null ? y(priceMarks[i - 1]) + 11.5 : y(v));
markYs = layout(markYs, 0);
drawLabels(svg, priceMarks.map(v => v === null ? countdown : fmt2(v)), markYs, markFills);
const volYs = layout(volMarks.map(v => yVol(v)), 0);
drawLabels(svg, volMarks.map(v => d3.format(".3f")(v) + "K"), volYs, ["#f5a36c", "#bd5a26"]);

const gMacdLab = svg.append("g").attr("clip-path", "url(#clipMacdLab)");
drawLabels(gMacdLab, macdMarks.map(fmt2), layout(macdMarks.map(v => yMacd(v)), 0, yMacd(0) + 7.2), ["#ef5d5d", "#ff7f14", "#2f95ee"]);
const gRsiLab = svg.append("g").attr("clip-path", "url(#clipRsiLab)");
drawLabels(gRsiLab, rsiMarks.map(fmt2), layout(rsiMarks.map(v => yRsi(v)), 2), ["#ff8c12", "#000", "#f51414", "#8bc34a"]);

// ---- legends ----
const leg = svg.append("g");
leg.append("text").attr("class", "sq").attr("x", 4).attr("y", 13.5).attr("font-size", 7.4).attr("font-weight", "bold").attr("fill", "#3b3f38").text(titleText);
legendLines.forEach((t, i) => {
  leg.append("text").attr("class", "sq").attr("x", 4).attr("y", 24.4 + i * 10.9).attr("font-size", 7.2).attr("fill", "#4f5549").text(t);
});
svg.append("text").attr("class", "sq").attr("x", 4).attr("y", 421).attr("font-size", 7.2).attr("fill", "#4f5549").text("MACD (12, 26, close, 9)");
svg.append("text").attr("class", "sq").attr("x", 4).attr("y", 488).attr("font-size", 7.2).attr("fill", "#4f5549").text("RSI_EMA_STOCH (14, 3, 3, 14, 10)");

condense(svg.selectAll("text.sq"), 0.9);
</script>
</body>
</html>
